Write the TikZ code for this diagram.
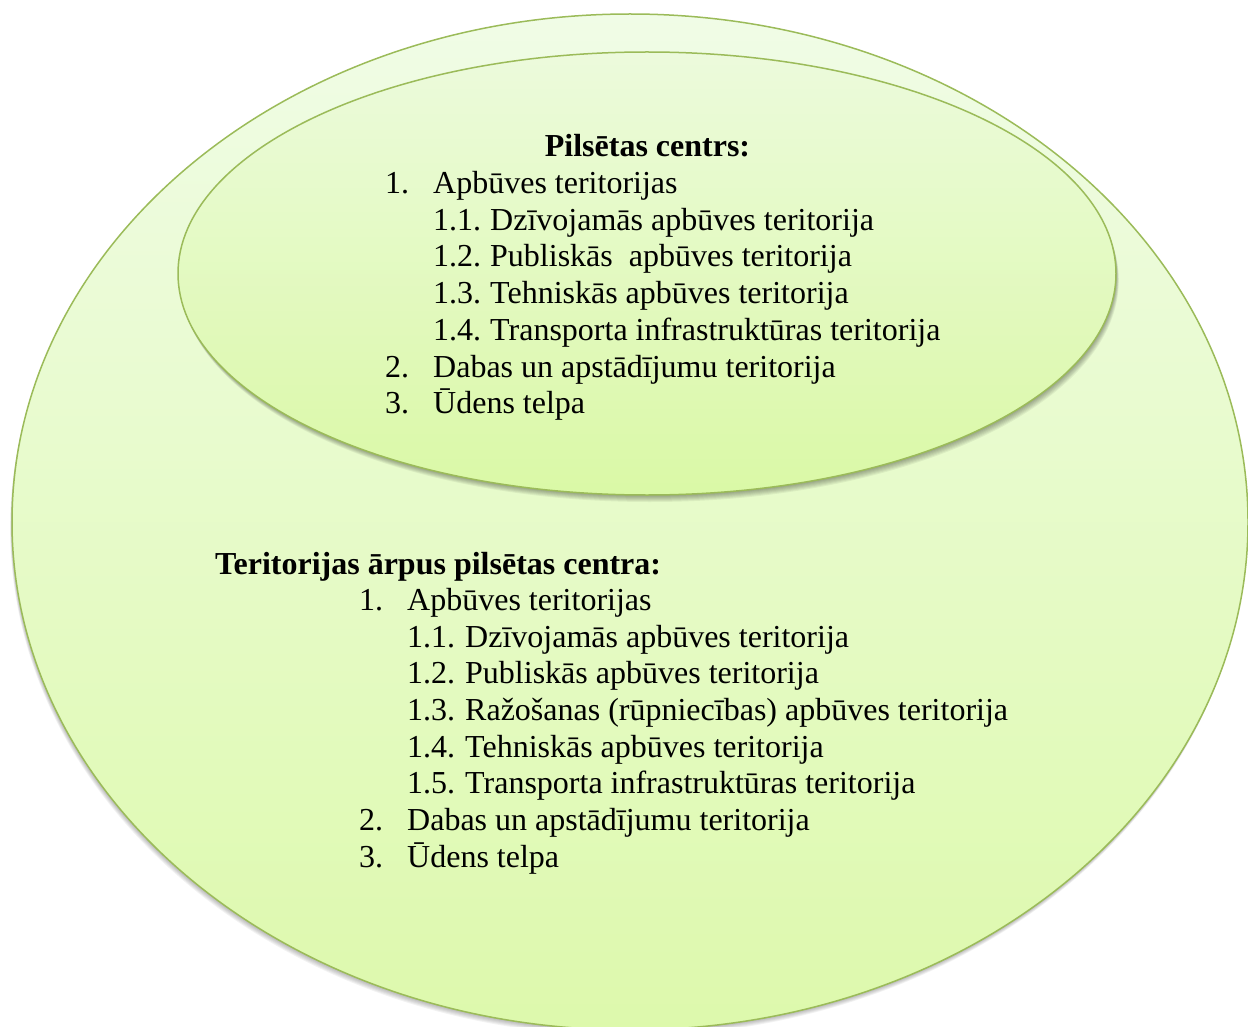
\documentclass[tikz,border=0pt]{standalone}
\usepackage{fontspec}
\setmainfont{Liberation Serif}
\usetikzlibrary{shapes.geometric}
\definecolor{edgegreen}{HTML}{9BBB59}
\definecolor{outtop}{HTML}{F0FCE6}
\definecolor{outbot}{HTML}{DDF9AC}
\definecolor{intop}{HTML}{ECFADC}
\definecolor{inbot}{HTML}{DAF9A6}
\begin{document}
\begin{tikzpicture}[x=1pt,y=-1pt,
  blob/.style={ellipse, draw=edgegreen, line width=1.5pt, inner sep=0pt},
  txt/.style={anchor=base west, inner sep=0pt, font=\fontsize{32}{38}\selectfont},
  head/.style={inner sep=0pt, font=\fontsize{32}{38}\selectfont\bfseries}]
\useasboundingbox (0,0) rectangle (1248,1027);
\clip (0,0) rectangle (1248,1027);
% outer shadow
\foreach \d in {1,2,...,6}{
  \fill[black, opacity=0.05] (630-0.3*\d,522+\d) ellipse [x radius=618, y radius=508];
}
\node[blob, minimum width=1236pt, minimum height=1016pt, top color=outtop, bottom color=outbot] (outer) at (630,522) {};
% inner shadow
\foreach \d in {1,2,...,7}{
  \fill[black, opacity=0.055] (647+0.4*\d,273.5+\d) ellipse [x radius=469, y radius=221.5];
}
\node[blob, minimum width=938pt, minimum height=443pt, top color=intop, bottom color=inbot] (inner) at (647,273.5) {};

% inner text
\node[head, anchor=base] (ih) at (647.5,157) {Pilsētas centrs:};
\node[txt] (in1) at (385,193.7) {1.};
\node[txt] (it1) at (433,193.7) {Apbūves teritorijas};
\node[txt] (in11) at (433,230.3) {1.1.};
\node[txt] (it11) at (490,230.3) {Dzīvojamās apbūves teritorija};
\node[txt] (in12) at (433,267) {1.2.};
\node[txt] (it12) at (490,267) {Publiskās\ \ apbūves teritorija};
\node[txt] (in13) at (433,303.7) {1.3.};
\node[txt] (it13) at (490,303.7) {Tehniskās apbūves teritorija};
\node[txt] (in14) at (433,340.3) {1.4.};
\node[txt] (it14) at (490,340.3) {Transporta infrastruktūras teritorija};
\node[txt] (in2) at (385,377) {2.};
\node[txt] (it2) at (433,377) {Dabas un apstādījumu teritorija};
\node[txt] (in3) at (385,413.7) {3.};
\node[txt] (it3) at (433,413.7) {Ūdens telpa};

% outer text
\node[head, anchor=base west] (oh) at (215,574) {Teritorijas ārpus pilsētas centra:};
\node[txt] (on1) at (359,610.5) {1.};
\node[txt] (ot1) at (407,610.5) {Apbūves teritorijas};
\node[txt] (on11) at (407,647.2) {1.1.};
\node[txt] (ot11) at (465,647.2) {Dzīvojamās apbūves teritorija};
\node[txt] (on12) at (407,683.9) {1.2.};
\node[txt] (ot12) at (465,683.9) {Publiskās apbūves teritorija};
\node[txt] (on13) at (407,720.5) {1.3.};
\node[txt] (ot13) at (465,720.5) {Ražošanas (rūpniecības) apbūves teritorija};
\node[txt] (on14) at (407,757.2) {1.4.};
\node[txt] (ot14) at (465,757.2) {Tehniskās apbūves teritorija};
\node[txt] (on15) at (407,793.9) {1.5.};
\node[txt] (ot15) at (465,793.9) {Transporta infrastruktūras teritorija};
\node[txt] (on2) at (359,830.5) {2.};
\node[txt] (ot2) at (407,830.5) {Dabas un apstādījumu teritorija};
\node[txt] (on3) at (359,867.2) {3.};
\node[txt] (ot3) at (407,867.2) {Ūdens telpa};
\end{tikzpicture}
\end{document}
